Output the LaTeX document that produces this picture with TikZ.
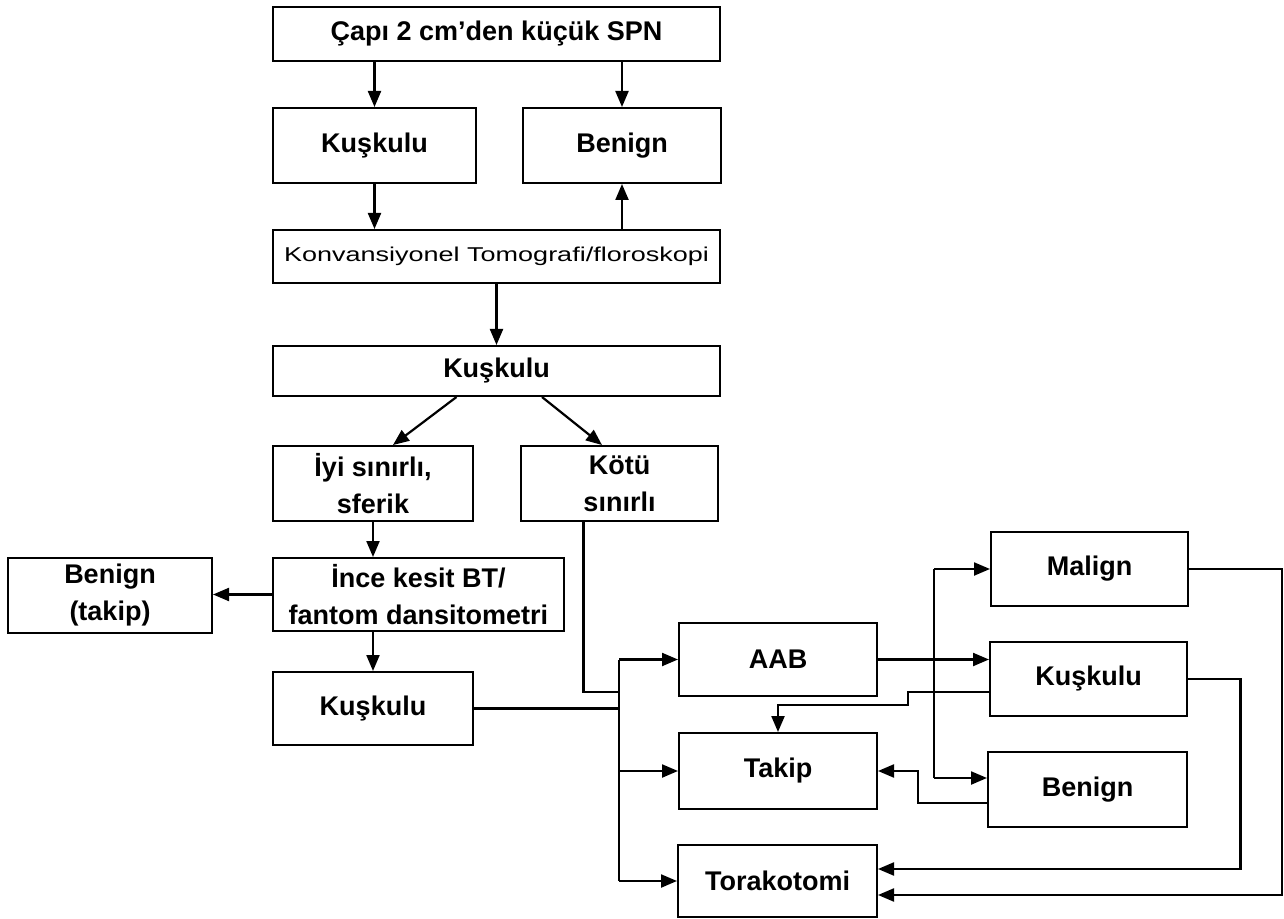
\documentclass[tikz,border=0pt]{standalone}
\usepackage{fontspec}
\setmainfont{Liberation Sans}
\newfontfamily\konvfont[FakeStretch=1.35]{Liberation Sans}
\usetikzlibrary{arrows.meta}
\begin{document}
\begin{tikzpicture}[x=0.5pt,y=-0.5pt,
    box/.style={draw,line width=1pt,inner sep=2pt,align=center,
      font=\fontsize{13.5pt}{18.5pt}\selectfont\bfseries},
    arr/.style={line width=1.1pt,-{Triangle[length=8pt,width=6.5pt]}}]
  \useasboundingbox (0,0) rectangle (1284,919);
  \node[box,minimum width=223.5pt,minimum height=27pt] (spn) at (496.5,34) {Çapı 2 cm’den küçük SPN};
  \node[box,minimum width=101.5pt,minimum height=37.5pt] (kusk1) at (374.5,145.5) {Kuşkulu};
  \node[box,minimum width=99pt,minimum height=37.5pt] (ben1) at (622,145.5) {Benign};
  \node[box,minimum width=223.5pt,minimum height=26.5pt,font=\konvfont\fontsize{10pt}{12pt}\selectfont] (konv) at (496.5,256.5) {Konvansiyonel Tomografi/floroskopi};
  \node[box,minimum width=223.5pt,minimum height=25pt] (kusk2) at (496.5,371) {Kuşkulu};
  \node[box,minimum width=100pt,minimum height=37.5pt] (iyi) at (373,483.5) {İyi sınırlı,\\sferik};
  \node[box,minimum width=98.5pt,minimum height=37.5pt] (kotu) at (619.5,483.5) {Kötü\\sınırlı};
  \node[box,minimum width=145.5pt,minimum height=36.5pt] (ince) at (418.5,594.5) {İnce kesit BT/\\fantom dansitometri};
  \node[box,minimum width=102pt,minimum height=37.5pt] (bentakip) at (110,595.5) {Benign\\(takip)};
  \node[box,minimum width=100pt,minimum height=36.5pt] (kusk3) at (373,708.5) {Kuşkulu};
  \node[box,minimum width=99pt,minimum height=36.5pt] (aab) at (778,659.5) {AAB};
  \node[box,minimum width=99pt,minimum height=38pt] (takip) at (778,771) {Takip};
  \node[box,minimum width=99.5pt,minimum height=36pt] (tora) at (777.5,881) {Torakotomi};
  \node[box,minimum width=98.5pt,minimum height=37pt] (malign) at (1089.5,569) {Malign};
  \node[box,minimum width=98.5pt,minimum height=37pt] (kusk4) at (1088.5,679) {Kuşkulu};
  \node[box,minimum width=99.5pt,minimum height=37.5pt] (ben4) at (1087.5,789.5) {Benign};
  \coordinate (bus) at (619,0);
  \coordinate (rbus) at (934,0);

  % upper part
  \draw[arr] (spn.south -| kusk1) -- (kusk1.north);
  \draw[arr] (spn.south -| ben1) -- (ben1.north);
  \draw[arr] (kusk1.south) -- (kusk1.south |- konv.north);
  \draw[arr] (ben1.south |- konv.north) -- (ben1.south);
  \draw[arr] (konv.south) -- (kusk2.north);
  \draw[arr] ([xshift=-20pt]kusk2.south) -- ([xshift=10pt]iyi.north);
  \draw[arr] ([xshift=22.75pt]kusk2.south) -- ([xshift=-8.75pt]kotu.north);
  \draw[arr] (iyi.south) -- (iyi.south |- ince.north);
  \draw[arr] (ince.west) -- (ince.west -| bentakip.east);
  \draw[arr] (ince.south -| kusk3) -- (kusk3.north);

  % left bus
  \draw[line width=1.1pt] ([xshift=-18pt]kotu.south) |- (619,692);
  \draw[line width=1.1pt] (kusk3.east) -- (kusk3.east -| bus);
  \draw[line width=1.1pt] (bus |- aab.west) -- (bus |- tora.west);
  \draw[arr] (bus |- aab.west) -- (aab.west);
  \draw[arr] (bus |- takip.west) -- (takip.west);
  \draw[arr] (bus |- tora.west) -- (tora.west);

  % right bus
  \draw[arr] (aab.east) -- (aab.east -| kusk4.west);
  \draw[line width=1.1pt] (rbus |- malign.west) -- ([yshift=5.75pt]ben4.west -| rbus);
  \draw[arr] (rbus |- malign.west) -- (malign.west);
  \draw[arr] ([yshift=5.75pt]ben4.west -| rbus) -- ([yshift=5.75pt]ben4.west);

  % back to Takip and Torakotomi
  \draw[arr] ([yshift=-6.5pt]kusk4.west) -- ++(-81,0) -- ++(0,13) -| (takip.north);
  \draw[arr] ([yshift=-6.75pt]ben4.west) -- ++(-69,0) |- (takip.east);
  \draw[arr] (malign.east) -- ++(93,0) |- ([yshift=-7pt]tora.east);
  \draw[arr] (kusk4.east) -- ++(52.5,0) |- ([yshift=6pt]tora.east);
\end{tikzpicture}
\end{document}
